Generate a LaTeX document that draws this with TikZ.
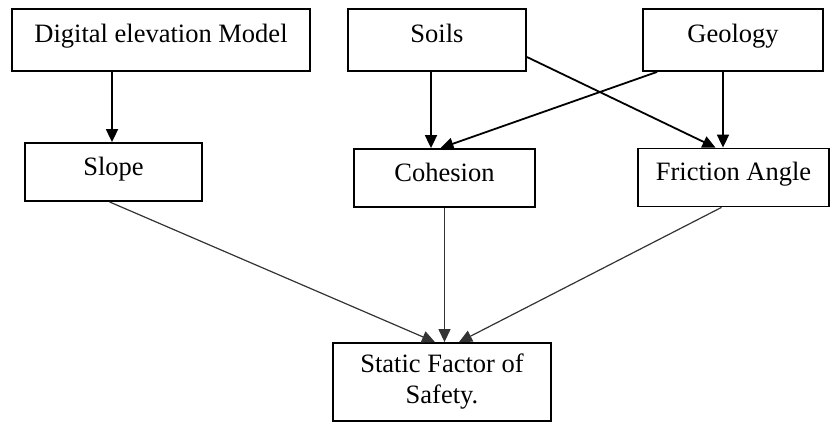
\documentclass[tikz,border=0pt]{standalone}
\usepackage{fontspec}
\setmainfont{Liberation Serif}
\usetikzlibrary{arrows.meta,positioning}

\begin{document}
\begin{tikzpicture}[x=1pt, y=-1pt, >={Triangle[length=13pt, width=12pt]}, box/.style={draw, rectangle, line width=1.8pt, inner ysep=0pt, font=\fontsize{26.5}{31}\selectfont}, high/.style={box, minimum height=62pt, text height=33pt, text depth=29pt}, low/.style={box, minimum height=58pt, text height=32pt, text depth=26pt}, thick link/.style={->, line width=1.8pt}, thin link/.style={->, line width=1.2pt, black!80}]
	\useasboundingbox (0,0) rectangle (831,423);
	\node[high, minimum width=298pt](dem) at (161,40){Digital elevation Model};
	\node[high, minimum width=178pt](soils) at (437,40){Soils};
	\node[high, minimum width=180pt](geology) at (733,40){Geology};
	
	\node[low, minimum width=177pt](slope) at (113.5,172){Slope};
	\node[low, minimum width=181pt](cohesion) at (444.5,178){Cohesion};
	\node[low, minimum width=191pt](friction) at (733.5,177.5){Friction Angle};
	
	\node[box, minimum width=218pt, minimum height=78pt, align=center](static) at (442,382){Static Factor of\\Safety.};
	
	\path ([xshift=-49pt]dem.south) edge[thick link] ([xshift=-1.5pt]slope.north)
	([xshift=-6pt]soils.south) edge[thick link] ([xshift=-13.5pt]cohesion.north)
	([xshift=15pt]geology.south west) edge[thick link] ([xshift=-4pt]cohesion.north)
	([yshift=-17pt]soils.east) edge[thick link] ([xshift=-18pt]friction.north)
	([xshift=-10pt]geology.south) edge[thick link] ([xshift=-10.5pt]friction.north)
	([xshift=-4pt]slope.south) edge[thin link] ([xshift=-7pt]static.north)
	(cohesion.south) edge[thin link] ([xshift=2.5pt]static.north)
	([xshift=-12pt]friction.south) edge[thin link] ([xshift=17pt]static.north);
\end{tikzpicture}
\end{document}
